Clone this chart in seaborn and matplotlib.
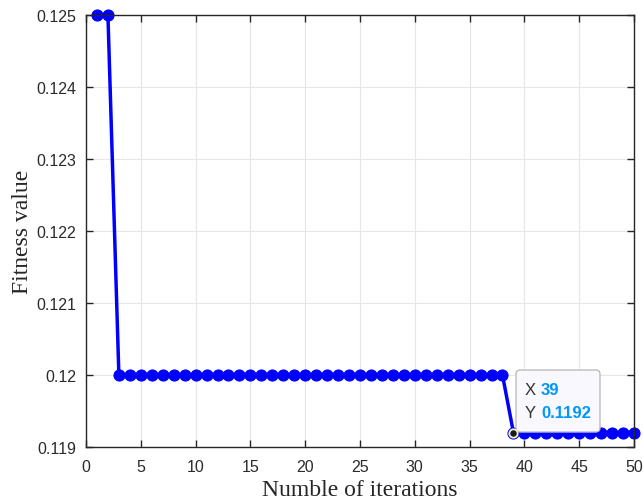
import numpy as np
import pandas as pd
import matplotlib
matplotlib.use("Agg")
import matplotlib.pyplot as plt
import seaborn as sns
from matplotlib.patches import FancyBboxPatch
from matplotlib.ticker import FuncFormatter

# fitness value per iteration
iterations = list(range(1, 51))
fitness = [0.125] * 2 + [0.12] * 36 + [0.1192] * 12
tip_x = 39
tip_y = 0.1192

df = pd.DataFrame({"iter": iterations, "fitness": fitness})

sns.set_style("whitegrid")
plt.rcParams["font.family"] = ["Liberation Sans", "DejaVu Sans"]

W, H = 643, 502
L, R, T, B = 86, 634, 16, 448
fig = plt.figure(figsize=(W / 100, H / 100), dpi=100)
ax = fig.add_axes([L / W, 1 - B / H, (R - L) / W, (B - T) / H])

# pixel positions -> axes fractions
aw, ah = R - L, B - T
def fx(px):
    return (px - L) / aw

def fy(py):
    return (B - py) / ah

sns.lineplot(data=df, x="iter", y="fitness", ax=ax, color="#0000ff",
             linewidth=2.5, marker="o", markersize=8, markeredgecolor="#0000ff")
for ln in ax.lines:
    ln.set_clip_on(False)

ax.set_xlim(0, 50)
ax.set_ylim(0.119, 0.125)
ax.set_xticks(np.arange(0, 51, 5))
ax.set_yticks([0.119, 0.120, 0.121, 0.122, 0.123, 0.124, 0.125])
ax.yaxis.set_major_formatter(FuncFormatter(lambda v, p: f"{v:.3f}".rstrip("0")))

ax.grid(True, color="#e6e6e6", linewidth=0.8)
for s in ax.spines.values():
    s.set_color("#262626")
    s.set_linewidth(1.0)
    s.set_visible(True)
ax.tick_params(direction="in", length=5, width=1.0, color="#262626",
               labelsize=11.5, labelcolor="#2b2b2b", top=True, right=True,
               left=True, bottom=True, pad=7)
ax.tick_params(axis="x", pad=9)

ax.set_xlabel("Numble of iterations", family=["Liberation Serif"], fontsize=17,
              color="#262626")
ax.xaxis.label.set_va("baseline")
ax.xaxis.set_label_coords(0.5, fy(496))
ax.set_ylabel("Fitness value", family=["Liberation Serif"], fontsize=17,
              color="#262626", labelpad=2)

# data tip marker
ax.plot([tip_x], [tip_y], "o", color="#1a1a1a", markersize=6,
        markeredgecolor="#f2f2c0", markeredgewidth=1.3, zorder=8, clip_on=False)

# data tip box
box = FancyBboxPatch((fx(516), fy(433)), fx(600) - fx(516), fy(371) - fy(433),
                     boxstyle="round,pad=0,rounding_size=0.008",
                     mutation_aspect=aw / ah, transform=ax.transAxes,
                     facecolor="#f8f8fe", edgecolor="#bdbdbd", linewidth=1.0,
                     zorder=6, clip_on=False)
ax.add_patch(box)
ax.text(fx(525), fy(391), "X", transform=ax.transAxes, fontsize=12,
        color="#333333", va="center", ha="left", zorder=7)
ax.text(fx(541), fy(391), f"{tip_x}", transform=ax.transAxes, fontsize=12,
        color="#0096ff", va="center", ha="left", fontweight="bold", zorder=7)
ax.text(fx(525), fy(414), "Y", transform=ax.transAxes, fontsize=12,
        color="#333333", va="center", ha="left", zorder=7)
ax.text(fx(541), fy(414), f"{tip_y}", transform=ax.transAxes, fontsize=12,
        color="#0096ff", va="center", ha="left", fontweight="bold", zorder=7)

fig.savefig("out.png", dpi=100)
